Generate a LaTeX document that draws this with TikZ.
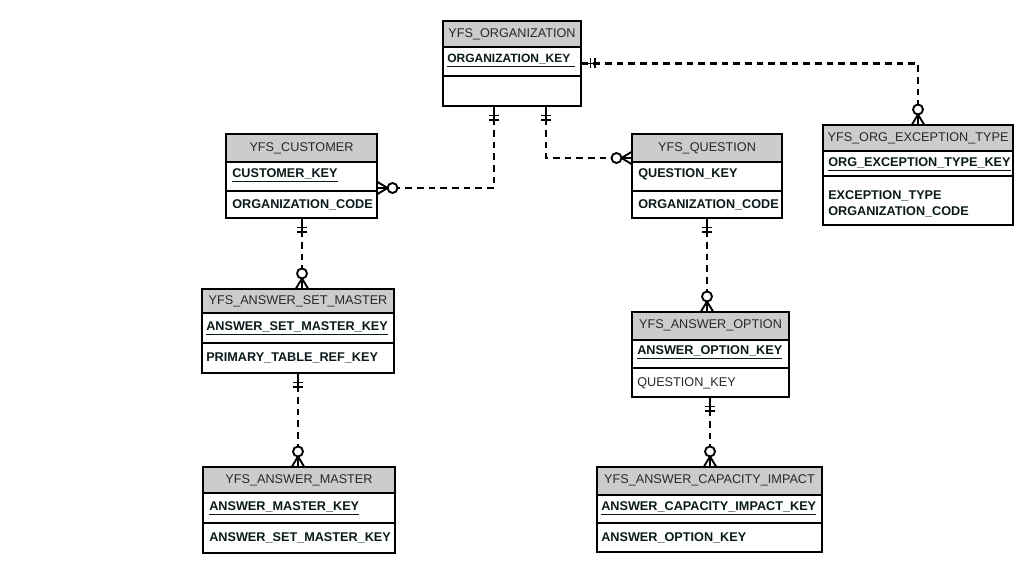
\documentclass[tikz,border=0pt]{standalone}
\usepackage{fontspec}
\setmainfont{Liberation Sans}
\usetikzlibrary{calc,fit}
\definecolor{hdrgray}{RGB}{204,204,204}
\definecolor{ttlgray}{RGB}{40,40,40}
\definecolor{keyink}{RGB}{10,25,25}
\tikzset{
  ln/.style={line width=0.8pt, draw=black},
  tbox/.style={draw=black, line width=0.8pt, inner sep=0pt},
  hdr/.style={fill=hdrgray},
  ttl/.style={font=\fontsize{9.5}{11}\selectfont, text=ttlgray, inner sep=0pt, text height=7pt, text depth=1.5pt},
  keyt/.style={font=\fontsize{9.5}{11}\selectfont\bfseries, text=keyink, anchor=west, inner sep=0pt, text height=7pt, text depth=1.5pt},
  attr/.style={font=\fontsize{9.5}{11}\selectfont, text=ttlgray, anchor=west, inner sep=0pt, text height=7pt, text depth=1.5pt},
  rel/.style={line width=1.6pt, dash pattern=on 5pt off 3.75pt},
  mk/.style={line width=1.4pt},
  onemark/.pic={\draw[mk] (0,0) -- (15,0); \draw[mk] (9,-5) -- (9,5); \draw[mk] (13.5,-5) -- (13.5,5);},
  crowmark/.pic={\draw[mk] (0,-6) -- (10,0) (0,6) -- (10,0) (0,0) -- (10,0); \draw[mk,fill=white] (15,0) circle[radius=5];}
}
\newcommand\ertab[7]{%
  \fill[hdr] (#2,#3) rectangle (#4,#6);
  \draw[ln] (#2,#6) -- (#4,#6) (#2,#7) -- (#4,#7);
  \node[tbox, fit={(#2,#3) (#4,#5)}] (#1) {};
}
\begin{document}
\begin{tikzpicture}[x=0.75pt,y=-0.75pt]
\useasboundingbox (0,0) rectangle (1019,574);
% tables
\ertab{org}{443}{21}{581}{106}{47}{76}
\ertab{cust}{226}{134}{377}{218}{162}{191}
\ertab{ques}{632}{134}{782}{218}{162}{191}
\ertab{exc}{823}{125}{1013}{225}{151}{176}
\ertab{asm}{202}{289}{394}{373}{313}{343}
\ertab{aopt}{632}{312}{789}{397}{340}{368}
\ertab{amas}{203}{467}{395}{553}{493}{523}
\ertab{aci}{597}{467}{822}{552}{495}{523}
% texts
\node[ttl] (org-t) at (512,34) {YFS\_ORGANIZATION};
\node[keyt, font=\fontsize{9}{11}\selectfont\bfseries] (org-k) at (447,59) {\underline{\makebox[96pt][l]{ORGANIZATION\_KEY}}};
\node[ttl] (cust-t) at (301.5,148) {YFS\_CUSTOMER};
\node[keyt] (cust-k) at (232,174) {\underline{CUSTOMER\_KEY}};
\node[keyt] (cust-a) at (232,205) {ORGANIZATION\_CODE};
\node[ttl] (ques-t) at (707,148) {YFS\_QUESTION};
\node[keyt] (ques-k) at (638,174) {QUESTION\_KEY};
\node[keyt] (ques-a) at (638,205) {ORGANIZATION\_CODE};
\node[ttl] (exc-t) at (918,138) {YFS\_ORG\_EXCEPTION\_TYPE};
\node[keyt] (exc-k) at (828,163) {\underline{ORG\_EXCEPTION\_TYPE\_KEY}};
\node[keyt] (exc-a) at (828,196) {EXCEPTION\_TYPE};
\node[keyt] (exc-b) at (828,212) {ORGANIZATION\_CODE};
\node[ttl] (asm-t) at (298,301) {YFS\_ANSWER\_SET\_MASTER};
\node[keyt] (asm-k) at (206,327) {\underline{ANSWER\_SET\_MASTER\_KEY}};
\node[keyt] (asm-a) at (206,358) {PRIMARY\_TABLE\_REF\_KEY};
\node[ttl] (aopt-t) at (710.5,325) {YFS\_ANSWER\_OPTION};
\node[keyt] (aopt-k) at (637,351) {\underline{ANSWER\_OPTION\_KEY}};
\node[attr] (aopt-a) at (637,383) {QUESTION\_KEY};
\node[ttl] (amas-t) at (299,480) {YFS\_ANSWER\_MASTER};
\node[keyt] (amas-k) at (209,507) {\underline{ANSWER\_MASTER\_KEY}};
\node[keyt] (amas-a) at (209,538) {ANSWER\_SET\_MASTER\_KEY};
\node[ttl] (aci-t) at (709.5,480) {YFS\_ANSWER\_CAPACITY\_IMPACT};
\node[keyt] (aci-k) at (601,507) {\underline{ANSWER\_CAPACITY\_IMPACT\_KEY}};
\node[keyt] (aci-a) at (601,538) {ANSWER\_OPTION\_KEY};
% connector end points
\coordinate (c1) at ($(org.south)+(-18,0)$);
\coordinate (c2) at ($(org.south)+(34,0)$);
\coordinate (c3) at ($(cust.south)+(0.5,0)$);
\coordinate (c4) at ($(aopt.south)+(-0.5,0)$);
% relationships
\draw[rel] (c1) |- ($(cust.east)+(0,12)$);
\pic[rotate=-90] at (c1) {onemark};
\pic at ($(cust.east)+(0,12)$) {crowmark};

\draw[rel] (c2) |- ($(ques.west)+(0,-18)$);
\pic[rotate=-90] at (c2) {onemark};
\pic[rotate=180] at ($(ques.west)+(0,-18)$) {crowmark};

\draw[rel] (org.east) -| (exc.north);
\pic at (org.east) {onemark};
\pic[rotate=90] at (exc.north) {crowmark};

\draw[rel] (c3) -- (c3 |- asm.north);
\pic[rotate=-90] at (c3) {onemark};
\pic[rotate=90] at (c3 |- asm.north) {crowmark};

\draw[rel] (asm.south) -- (asm.south |- amas.north);
\pic[rotate=-90] at (asm.south) {onemark};
\pic[rotate=90] at (asm.south |- amas.north) {crowmark};

\draw[rel] (ques.south) -- (ques.south |- aopt.north);
\pic[rotate=-90] at (ques.south) {onemark};
\pic[rotate=90] at (ques.south |- aopt.north) {crowmark};

\draw[rel] (c4) -- (c4 |- aci.north);
\pic[rotate=-90] at (c4) {onemark};
\pic[rotate=90] at (c4 |- aci.north) {crowmark};
\end{tikzpicture}
\end{document}
